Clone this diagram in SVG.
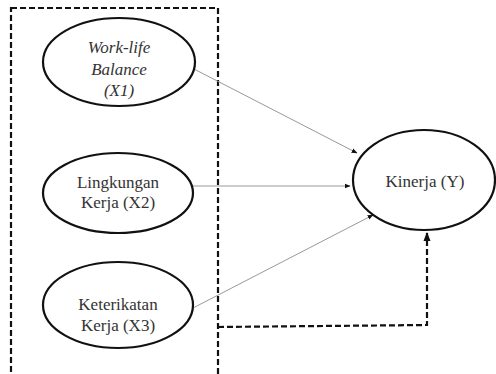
<svg xmlns="http://www.w3.org/2000/svg" width="496" height="374" viewBox="0 0 496 374">
<defs>
<marker id="ah" viewBox="0 0 10 10" refX="9" refY="5" markerWidth="6" markerHeight="6" orient="auto">
<path d="M0,1 L10,5 L0,9 z" fill="#111"/>
</marker>
<marker id="ah2" viewBox="0 0 10 10" refX="9" refY="5" markerWidth="4" markerHeight="4" orient="auto">
<path d="M0,1 L10,5 L0,9 z" fill="#111"/>
</marker>
</defs>
<rect x="11" y="8" width="207" height="380" fill="none" stroke="#111" stroke-width="2.2" stroke-dasharray="6,3"/>
<g id="connectors" fill="none">
<line x1="194" y1="69" x2="357" y2="153" stroke="#999" stroke-width="1" marker-end="url(#ah)"/>
<line x1="193" y1="186" x2="350" y2="186" stroke="#999" stroke-width="1" marker-end="url(#ah)"/>
<line x1="193" y1="308" x2="373" y2="215" stroke="#999" stroke-width="1" marker-end="url(#ah)"/>
<polyline points="218,327 427,325 427,233" stroke="#111" stroke-width="2.2" stroke-dasharray="6,3" marker-end="url(#ah2)"/>
</g>
<g id="x1">
<ellipse cx="119" cy="62" rx="76" ry="44" fill="#fff" stroke="#111" stroke-width="2.2"/>
<text x="119" y="53" font-family="Times New Roman, serif" font-size="17" fill="#333" text-anchor="middle" font-style="italic">Work-life</text>
<text x="119" y="75" font-family="Times New Roman, serif" font-size="17" fill="#333" text-anchor="middle" font-style="italic">Balance</text>
<text x="119" y="96" font-family="Times New Roman, serif" font-size="17" fill="#333" text-anchor="middle" font-style="italic">(X1)</text>
</g>
<g id="x2">
<ellipse cx="118" cy="193" rx="75" ry="40" fill="#fff" stroke="#111" stroke-width="2.2"/>
<text x="118" y="188" font-family="Times New Roman, serif" font-size="17" fill="#333" text-anchor="middle">Lingkungan</text>
<text x="118" y="208" font-family="Times New Roman, serif" font-size="17" fill="#333" text-anchor="middle">Kerja (X2)</text>
</g>
<g id="x3">
<ellipse cx="118" cy="305" rx="75" ry="43" fill="#fff" stroke="#111" stroke-width="2.2"/>
<text x="118" y="310" font-family="Times New Roman, serif" font-size="17" fill="#333" text-anchor="middle">Keterikatan</text>
<text x="118" y="331" font-family="Times New Roman, serif" font-size="17" fill="#333" text-anchor="middle">Kerja (X3)</text>
</g>
<g id="y">
<ellipse cx="424" cy="180" rx="71" ry="50" fill="#fff" stroke="#111" stroke-width="2.2"/>
<text x="425" y="187" font-family="Times New Roman, serif" font-size="17" fill="#333" text-anchor="middle">Kinerja (Y)</text>
</g>
</svg>
